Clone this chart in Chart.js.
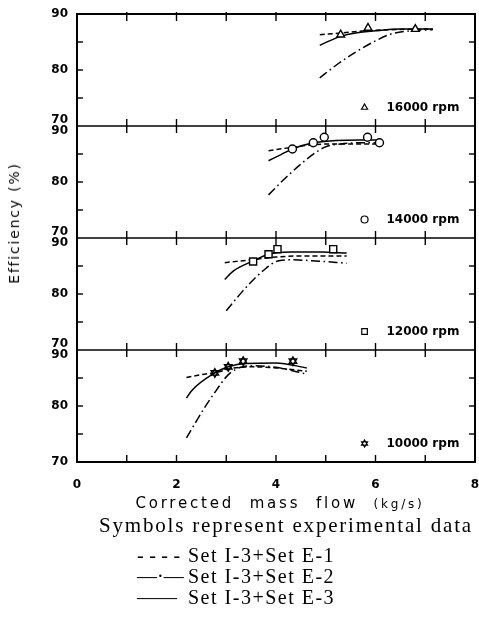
<!DOCTYPE html>
<html>
<head>
<meta charset="utf-8">
<script src="https://cdn.jsdelivr.net/npm/chart.js@4.4.1/dist/chart.umd.min.js"></script>
<style>
  html, body { margin:0; padding:0; background:#fff; }
  #wrap { position:relative; width:479px; height:637px; overflow:hidden; }
  #c { position:absolute; left:0; top:0; }
  .t { position:absolute; white-space:nowrap; color:#000; }
  #ytitle { left:14px; top:223px; transform:translate(-50%,-50%) rotate(-90deg); font:14px 'DejaVu Sans'; letter-spacing:1.8px; }
  #xtitle { left:280px; top:494px; transform:translateX(-50%); font:15px 'DejaVu Sans'; letter-spacing:2.8px; word-spacing:8px; }
  #xtitle span { font-size:12px; }
  #caption { left:286px; top:513px; transform:translateX(-50%); font:21px 'Liberation Serif'; letter-spacing:1.8px; }
  .leg { left:137px; font:20px 'Liberation Serif'; letter-spacing:1.5px; }
  .pre { display:inline-block; width:51px; }
</style>
</head>
<body>
<div id="wrap">
  <canvas id="c" width="479" height="637"></canvas>
  <div class="t" id="ytitle">Efficiency (%)</div>
  <div class="t" id="xtitle">Corrected mass flow <span>(kg/s)</span></div>
  <div class="t" id="caption">Symbols represent experimental data</div>
  <div class="t leg" style="top:544px"><span class="pre" style="letter-spacing:5.5px">----</span>Set I-3+Set E-1</div>
  <div class="t leg" style="top:565px"><span class="pre" style="letter-spacing:0">—·—</span>Set I-3+Set E-2</div>
  <div class="t leg" style="top:586px"><span class="pre" style="letter-spacing:0">——</span>Set I-3+Set E-3</div>
</div>
<script>
// ---------------- data ----------------
const xTickValues = [0, 2, 4, 6, 8];
const yLabelValues = [70, 80, 90];
const rpmLabels = ['16000 rpm', '14000 rpm', '12000 rpm', '10000 rpm'];

// 16000 rpm
const exp16X = [5.3, 5.85, 6.8];
const exp16Y = [86.3, 87.5, 87.3];
const e1_16X = [4.88, 5.3, 5.8, 6.3, 6.8, 7.15];
const e1_16Y = [86.3, 86.6, 87.0, 87.2, 87.3, 87.3];
const e2_16X = [4.88, 5.2, 5.6, 6.0, 6.3, 6.7, 7.15];
const e2_16Y = [78.6, 80.8, 83.2, 85.2, 86.4, 87.0, 87.2];
const e3_16X = [4.88, 5.1, 5.3, 5.6, 6.0, 6.5, 7.15];
const e3_16Y = [84.4, 85.3, 86.0, 86.6, 87.0, 87.3, 87.3];

// 14000 rpm
const exp14X = [4.33, 4.75, 4.97, 5.84, 6.08];
const exp14Y = [85.9, 87.0, 88.0, 88.0, 87.0];
const e1_14X = [3.85, 4.33, 4.8, 5.3, 5.8, 6.12];
const e1_14Y = [85.6, 86.2, 86.7, 86.8, 86.8, 86.8];
const e2_14X = [3.85, 4.2, 4.5, 4.8, 5.0, 5.3, 5.7, 6.12];
const e2_14Y = [77.7, 80.8, 83.2, 85.3, 86.3, 86.8, 87.0, 87.0];
const e3_14X = [3.85, 4.1, 4.33, 4.75, 5.2, 5.7, 6.12];
const e3_14Y = [83.8, 84.9, 85.9, 87.0, 87.4, 87.5, 87.5];

// 12000 rpm
const exp12X = [3.54, 3.85, 4.03, 5.15];
const exp12Y = [85.8, 87.1, 88.0, 88.0];
const e1_12X = [2.97, 3.5, 4.0, 4.5, 5.0, 5.42];
const e1_12Y = [85.6, 86.1, 86.6, 86.8, 86.8, 86.8];
const e2_12X = [3.0, 3.3, 3.55, 3.8, 4.0, 4.3, 4.8, 5.42];
const e2_12Y = [77.0, 80.2, 82.6, 84.6, 85.8, 86.1, 85.9, 85.5];
const e3_12X = [2.97, 3.14, 3.54, 3.85, 4.3, 4.9, 5.42];
const e3_12Y = [82.6, 84.1, 85.9, 87.1, 87.5, 87.5, 87.3];

// 10000 rpm
const exp10X = [2.77, 3.04, 3.34, 4.34];
const exp10Y = [85.9, 87.0, 88.0, 88.0];
const e1_10X = [2.2, 2.5, 2.8, 3.1, 3.5, 4.0, 4.62];
const e1_10Y = [85.1, 85.6, 86.0, 86.7, 87.0, 86.8, 86.2];
const e2_10X = [2.2, 2.4, 2.6, 2.8, 3.0, 3.2, 3.5, 4.0, 4.62];
const e2_10Y = [74.3, 77.3, 80.2, 82.8, 85.2, 86.6, 87.2, 86.9, 85.7];
const e3_10X = [2.2, 2.3, 2.77, 3.04, 3.4, 4.0, 4.62];
const e3_10Y = [81.4, 82.7, 85.9, 87.0, 87.6, 87.7, 86.8];

// ---------------- build ----------------
const pts = (xs, ys) => xs.map((x, i) => ({ x: x, y: ys[i] }));
const panels = [
  { id: 'y16', marker: 'triangle', exp: [exp16X, exp16Y], e1: [e1_16X, e1_16Y], e2: [e2_16X, e2_16Y], e3: [e3_16X, e3_16Y] },
  { id: 'y14', marker: 'circle',   exp: [exp14X, exp14Y], e1: [e1_14X, e1_14Y], e2: [e2_14X, e2_14Y], e3: [e3_14X, e3_14Y] },
  { id: 'y12', marker: 'rect',     exp: [exp12X, exp12Y], e1: [e1_12X, e1_12Y], e2: [e2_12X, e2_12Y], e3: [e3_12X, e3_12Y] },
  { id: 'y10', marker: 'hexagram', exp: [exp10X, exp10Y], e1: [e1_10X, e1_10Y], e2: [e2_10X, e2_10Y], e3: [e3_10X, e3_10Y] }
];
const lineStyles = { e1: [5, 3], e2: [9, 3.5, 1.6, 3.5], e3: [] };
const markerRadius = { triangle: 4.5, circle: 4, rect: 5, hexagram: 4.3 };

const datasets = [];
panels.forEach(p => {
  ['e1', 'e2', 'e3'].forEach(k => {
    datasets.push({
      label: p.id + k, yAxisID: p.id, xAxisID: 'x', order: 1,
      data: pts(p[k][0], p[k][1]), showLine: true, pointRadius: 0,
      borderColor: '#000', borderWidth: 1.5, borderDash: lineStyles[k],
      cubicInterpolationMode: 'monotone', fill: false
    });
  });
  const rots = p.marker === 'hexagram' ? [0, 180] : [0];
  rots.forEach(r => {
    datasets.push({
      label: p.id + 'exp' + r, yAxisID: p.id, xAxisID: 'x', order: 0,
      data: pts(p.exp[0], p.exp[1]), showLine: false,
      pointStyle: p.marker === 'hexagram' ? 'triangle' : p.marker,
      rotation: r, pointRadius: markerRadius[p.marker],
      pointBackgroundColor: p.marker === 'hexagram' ? 'rgba(255,255,255,0)' : '#fff',
      pointBorderColor: '#000', pointBorderWidth: 1.4
    });
  });
});

const yScale = (id) => ({
  type: 'linear', position: 'left', stack: 'panels', stackWeight: 1,
  min: 70, max: 90,
  ticks: { display: false }, grid: { display: false }, border: { display: false },
  afterFit: s => { s.width = 77; s.paddingTop = 0; s.paddingBottom = 0; }
});

function drawMarker(ctx, kind, x, y, r) {
  ctx.beginPath();
  if (kind === 'circle') {
    ctx.arc(x, y, r, 0, Math.PI * 2);
  } else if (kind === 'rect') {
    ctx.rect(x - r * 0.7, y - r * 0.7, r * 1.4, r * 1.4);
  } else {
    const tri = (rot) => {
      for (let i = 0; i < 3; i++) {
        const a = rot + i * 2 * Math.PI / 3;
        const px = x + Math.sin(a) * r, py = y - Math.cos(a) * r;
        if (i === 0) ctx.moveTo(px, py); else ctx.lineTo(px, py);
      }
      ctx.closePath();
    };
    tri(0);
    if (kind === 'hexagram') tri(Math.PI);
  }
  ctx.fillStyle = '#fff';
  if (kind !== 'hexagram') ctx.fill();
  ctx.stroke();
}

const framePlugin = {
  id: 'frame',
  afterDatasetsDraw(chart) {
    const { ctx, chartArea: a, scales } = chart;
    const xs = scales.x;
    ctx.save();
    ctx.strokeStyle = '#000';
    ctx.lineWidth = 2;
    ctx.strokeRect(a.left, a.top, a.right - a.left, a.bottom - a.top);
    ctx.lineWidth = 1.4;
    const seg = (x1, y1, x2, y2) => { ctx.beginPath(); ctx.moveTo(x1, y1); ctx.lineTo(x2, y2); ctx.stroke(); };
    panels.forEach((p, i) => {
      const s = scales[p.id];
      const yTop = s.getPixelForValue(90), yBot = s.getPixelForValue(70);
      if (i < panels.length - 1) seg(a.left, yBot, a.right, yBot);
      [75, 80, 85].forEach(v => {
        const y = s.getPixelForValue(v);
        seg(a.left, y, a.left + 6, y);
        seg(a.right - 6, y, a.right, y);
      });
      for (let v = 1; v <= 7; v++) {
        const x = xs.getPixelForValue(v);
        if (i === 0) seg(x, yTop - 2, x, yTop + 7); else seg(x, yTop - 7, x, yTop + 7);
        if (i === panels.length - 1) seg(x, yBot - 7, x, yBot);
      }
      // y labels
      ctx.fillStyle = '#000';
      ctx.font = 'bold 12px "DejaVu Sans"';
      ctx.textAlign = 'right';
      ctx.textBaseline = 'middle';
      yLabelValues.forEach(v => {
        let y = s.getPixelForValue(v);
        if (v === 90 && i > 0) y += 5;
        if (v === 70 && i < panels.length - 1) y -= 6;
        ctx.fillText(String(v), 68, y);
      });
      // rpm label
      const ly = s.getPixelForValue(73.3);
      ctx.lineWidth = 1.2;
      drawMarker(ctx, p.marker, xs.getPixelForValue(5.78), ly, p.marker === 'rect' ? 4 : 3.5);
      ctx.lineWidth = 1.4;
      ctx.fillStyle = '#000';
      ctx.font = 'bold 12px "DejaVu Sans"';
      ctx.textAlign = 'left';
      ctx.fillText(rpmLabels[i], xs.getPixelForValue(6.22), ly);
    });
    ctx.restore();
  }
};

Chart.defaults.font.family = '"DejaVu Sans"';
new Chart(document.getElementById('c'), {
  type: 'scatter',
  data: { datasets: datasets },
  options: {
    responsive: false, animation: false, devicePixelRatio: 1,
    layout: { autoPadding: false, padding: { top: 14, right: 4, left: 0, bottom: 0 } },
    plugins: { legend: { display: false }, tooltip: { enabled: false } },
    scales: {
      x: {
        type: 'linear', position: 'bottom', min: 0, max: 8,
        afterBuildTicks: s => { s.ticks = xTickValues.map(v => ({ value: v })); },
        ticks: { color: '#000', font: { size: 12, weight: 'bold' }, padding: 8, maxRotation: 0 },
        grid: { display: false }, border: { display: false },
        afterFit: s => { s.height = 175; s.paddingLeft = 0; s.paddingRight = 0; }
      },
      y10: yScale('y10'),
      y12: yScale('y12'),
      y14: yScale('y14'),
      y16: yScale('y16')
    }
  },
  plugins: [framePlugin]
});
</script>
</body>
</html>
